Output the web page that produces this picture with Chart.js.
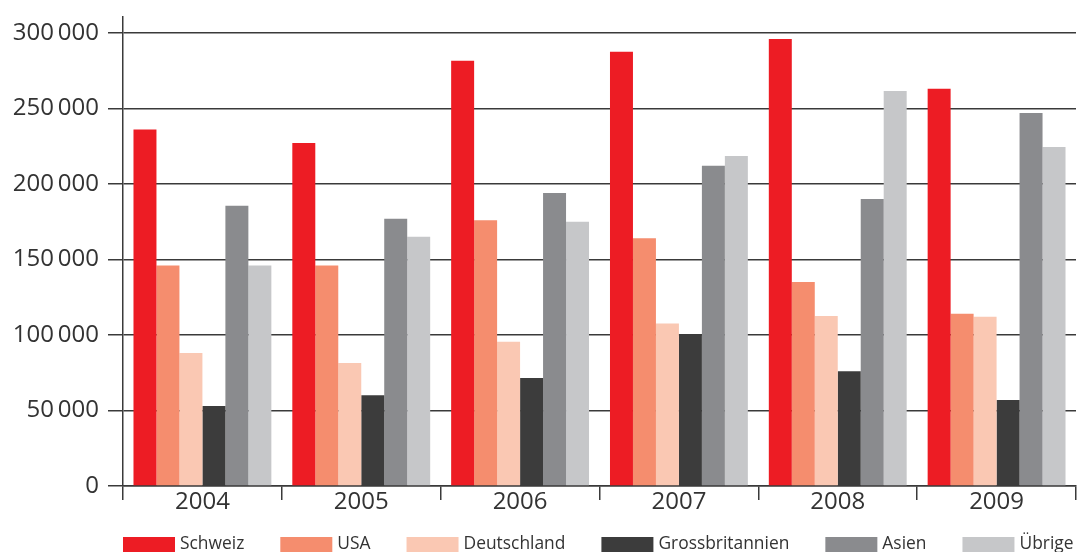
<!DOCTYPE html>
<html>
<head>
<meta charset="utf-8">
<script src="https://cdn.jsdelivr.net/npm/chart.js@4"></script>
<style>
  html, body { margin: 0; padding: 0; background: #fff; overflow: hidden; }
  #wrap { width: 1078px; height: 552px; }
</style>
</head>
<body>
<div id="wrap"><canvas id="exportChart"></canvas></div>
<script>
// years on the x axis
const years = ['2004', '2005', '2006', '2007', '2008', '2009'];

// values per region
const schweiz = [236000, 227000, 281500, 287500, 296000, 263000];
const usa = [146000, 146000, 176000, 164000, 135000, 114000];
const deutschland = [88000, 81500, 95500, 107500, 112500, 112000];
const grossbritannien = [53000, 60000, 71500, 100500, 76000, 57000];
const asien = [185500, 177000, 194000, 212000, 190000, 247000];
const uebrige = [146000, 165000, 175000, 218500, 261500, 224500];

// y axis ticks
const yTicks = [0, 50000, 100000, 150000, 200000, 250000, 300000];

const gridColor = '#3a3a3a';
const textColor = '#333333';
const fontFamily = 'Open Sans';

function formatNumber(v) {
    if (v === 0) return '0';
    return Math.floor(v / 1000) + '\u2009' + String(v % 1000).padStart(3, '0');
}

// legend drawn below the axis, starting at the left edge of the plot
const bottomLegend = {
    id: 'bottomLegend',
    afterDraw(chart) {
        const c = chart.ctx;
        const boxW = 52, boxH = 15, textGap = 5, itemGap = 36;
        const top = chart.chartArea.bottom + 51;
        let x = chart.chartArea.left;
        c.save();
        c.font = '17.4px "' + fontFamily + '"';
        c.textBaseline = 'alphabetic';
        c.textAlign = 'left';
        chart.data.datasets.forEach(ds => {
            c.fillStyle = ds.backgroundColor;
            c.fillRect(x, top, boxW, boxH);
            c.fillStyle = textColor;
            c.fillText(ds.label, x + boxW + textGap, top + 12);
            x += boxW + textGap + c.measureText(ds.label).width + itemGap;
        });
        c.restore();
    }
};

const ctx = document.getElementById('exportChart').getContext('2d');
new Chart(ctx, {
    type: 'bar',
    data: {
        labels: years,
        datasets: [
            { label: 'Schweiz', data: schweiz, backgroundColor: '#ed1c24' },
            { label: 'USA', data: usa, backgroundColor: '#f58d6e' },
            { label: 'Deutschland', data: deutschland, backgroundColor: '#fac8b3' },
            { label: 'Grossbritannien', data: grossbritannien, backgroundColor: '#3c3c3c' },
            { label: 'Asien', data: asien, backgroundColor: '#8a8b8e' },
            { label: 'Übrige', data: uebrige, backgroundColor: '#c6c7c9' }
        ]
    },
    options: {
        responsive: true,
        maintainAspectRatio: false,
        animation: false,
        datasets: {
            bar: {
                categoryPercentage: 0.868,
                barPercentage: 1.0
            }
        },
        layout: {
            padding: { top: 17, right: 2, left: 0, bottom: 18 }
        },
        plugins: {
            tooltip: { enabled: false },
            legend: { display: false }
        },
        scales: {
            x: {
                offset: true,
                grid: {
                    offset: true,
                    drawOnChartArea: false,
                    color: gridColor,
                    lineWidth: 1.5,
                    tickLength: 14
                },
                border: { color: gridColor, width: 1.5 },
                ticks: {
                    color: textColor,
                    padding: -12,
                    font: { family: fontFamily, size: 24 }
                },
                afterFit: function (scale) { scale.height = 48; }
            },
            y: {
                min: 0,
                max: 310500,
                afterBuildTicks: function (scale) {
                    scale.ticks = yTicks.map(v => ({ value: v }));
                },
                grid: {
                    color: gridColor,
                    lineWidth: 1.5,
                    tickLength: 15
                },
                border: { color: gridColor, width: 1.5 },
                ticks: {
                    color: textColor,
                    padding: 9,
                    font: { family: fontFamily, size: 24 },
                    callback: function (value) { return formatNumber(value); }
                },
                afterFit: function (scale) {
                    scale.width = 123;
                    scale.paddingTop = 0;
                    scale.paddingBottom = 0;
                }
            }
        }
    },
    plugins: [bottomLegend]
});
</script>
</body>
</html>
